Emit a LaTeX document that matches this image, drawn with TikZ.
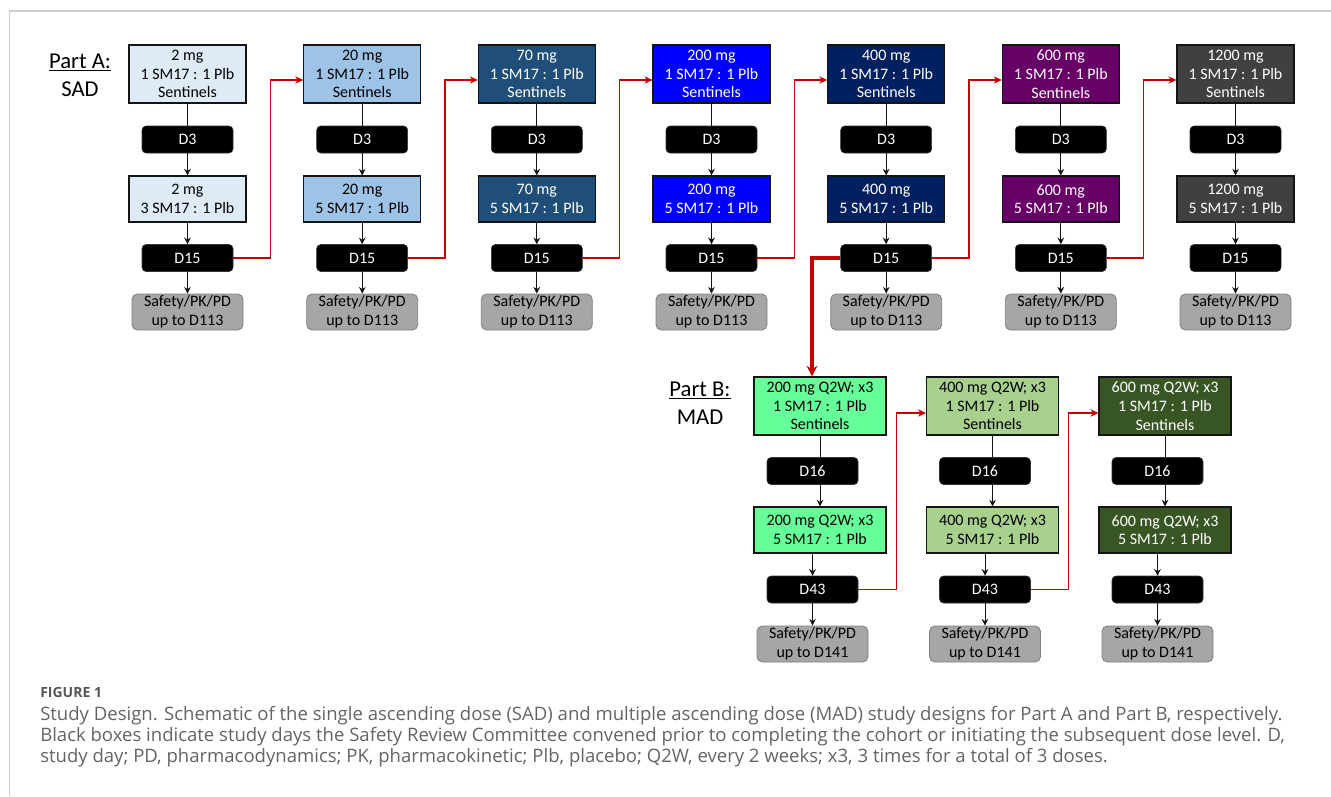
\documentclass[tikz,border=0pt]{standalone}
\usepackage{fontspec}
\setmainfont{Carlito}
\newfontfamily\capfont{Open Sans}
\usetikzlibrary{
    arrows.meta,
    calc,
    positioning
}
\definecolor{ink}{RGB}{20,20,20}
\definecolor{doseA}{RGB}{222,235,247}
\definecolor{doseB}{RGB}{157,195,230}
\definecolor{doseC}{RGB}{31,78,121}
\definecolor{doseD}{RGB}{0,0,255}
\definecolor{doseE}{RGB}{0,32,96}
\definecolor{doseF}{RGB}{102,0,102}
\definecolor{doseG}{RGB}{64,64,64}
\definecolor{madA}{RGB}{102,255,153}
\definecolor{madB}{RGB}{169,209,142}
\definecolor{madC}{RGB}{55,86,35}
\definecolor{safety}{RGB}{166,166,166}
\definecolor{safetyedge}{RGB}{127,127,127}
\definecolor{escalate}{RGB}{200,0,0}
\definecolor{framegray}{RGB}{205,205,205}
\definecolor{captext}{RGB}{100,100,100}
\definecolor{caphead}{RGB}{85,85,85}
\tikzset{
    line join=miter,
    boxtext/.style={font=\fontsize{12}{14}\selectfont},
    dosebox/.style={
        rectangle,
        draw=ink,
        line width=0.8pt,
        minimum width=87.75pt,
        inner sep=1pt,
        align=center,
        boxtext
    },
    sentinel/.style={dosebox, minimum height=43.5pt},
    cohort/.style={dosebox, minimum height=34.5pt},
    madbox/.style={minimum width=99pt},
    daybox/.style={
        rectangle,
        rounded corners=3pt,
        fill=black,
        draw=black!80,
        line width=0.4pt,
        text=white,
        minimum width=68.25pt,
        minimum height=20.25pt,
        inner sep=1pt,
        boxtext
    },
    safetybox/.style={
        rectangle,
        rounded corners=4pt,
        fill=safety,
        draw=safetyedge,
        line width=0.6pt,
        minimum width=83.25pt,
        minimum height=27pt,
        inner sep=0.5pt,
        align=center,
        text=black,
        font=\fontsize{12}{14}\selectfont
    },
    link/.style={
        draw=ink,
        line width=0.75pt
    },
    flow/.style={
        link,
        -{Stealth[length=5pt, width=5pt]}
    },
    nextdose/.style={
        -{Stealth[length=6pt, width=5.5pt]},
        draw=escalate,
        line width=0.8pt
    },
    tomad/.style={
        -{Stealth[length=8pt, width=8pt]},
        draw=escalate,
        line width=2.3pt
    },
    partlabel/.style={
        align=center,
        font=\fontsize{17}{21}\selectfont
    },
    caphead/.style={
        font=\capfont\bfseries\fontsize{10.5}{12}\selectfont,
        text=caphead,
        inner sep=0pt
    },
    captext/.style={
        font=\capfont\fontsize{13.9}{15.5}\selectfont,
        text=captext,
        align=left,
        inner sep=0pt
    }
}

\begin{document}
\begin{tikzpicture}[x=0.75pt, y=-0.75pt]

\useasboundingbox (0,0) rectangle (1331,796);

% frame of the figure panel
\draw[framegray, line width=0.8pt] (1331,11) -- (9.5,11) -- (9.5,796);

% Part A: single ascending dose
\node[partlabel] (partA) at (80,75) {\underline{Part A:}\\SAD};

\foreach \i/\x/\dose/\ratio/\fillc/\txtc in {
    1/187.5/2/3/doseA/black,
    2/362.2/20/5/doseB/black,
    3/536.8/70/5/doseC/white,
    4/711.5/200/5/doseD/white,
    5/886.2/400/5/doseE/white,
    6/1060.8/600/5/doseF/white,
    7/1235.5/1200/5/doseG/white}{
    \node[sentinel, fill=\fillc, text=\txtc] (sadtop-\i) at (\x,74) {\dose{} mg\\1 SM17 : 1 Plb\\Sentinels};
    \node[daybox] (sadd3-\i) at (\x,139.5) {D3};
    \node[cohort, fill=\fillc, text=\txtc] (sadmain-\i) at (\x,199) {\dose{} mg\\\ratio{} SM17 : 1 Plb};
    \node[daybox] (sadd15-\i) at (\x,258) {D15};
    \node[safetybox] (sadsafe-\i) at (\x,312) {Safety/PK/PD\\up to D113};
    \draw[link] (sadtop-\i) -- (sadd3-\i);
    \draw[flow] (sadd3-\i) -- (sadmain-\i);
    \draw[flow] (sadmain-\i) -- (sadd15-\i);
    \draw[flow] (sadd15-\i) -- (sadsafe-\i);
}

% escalation to the next SAD cohort
\foreach \i in {1,...,6}{
    \pgfmathtruncatemacro{\j}{\i+1}
    \draw[nextdose] (sadd15-\i.east) -- ++(37,0) |- ([yshift=-4.5pt]sadtop-\j.west);
}

% Part B: multiple ascending dose
\node[partlabel] (partB) at (700,403) {\underline{Part B:}\\MAD};

\foreach \i/\x/\dose/\fillc/\txtc in {
    1/820/200/madA/black,
    2/992.5/400/madB/black,
    3/1165/600/madC/white}{
    \node[sentinel, madbox, fill=\fillc, text=\txtc] (madtop-\i) at (\x,406) {\dose{} mg Q2W; x3\\1 SM17 : 1 Plb\\Sentinels};
    \node[daybox] (madd16-\i) at (\x-7.5,471) {D16};
    \node[cohort, madbox, fill=\fillc, text=\txtc] (madmain-\i) at (\x,530) {\dose{} mg Q2W; x3\\5 SM17 : 1 Plb};
    \node[daybox] (madd43-\i) at (\x-7.5,589.5) {D43};
    \node[safetybox] (madsafe-\i) at (\x-7.5,644) {Safety/PK/PD\\up to D141};
    \draw[link] (madtop-\i) -- (madtop-\i |- madd16-\i.north);
    \draw[flow] (madtop-\i |- madd16-\i.south) -- (madmain-\i);
    \draw[flow] (madd43-\i |- madmain-\i.south) -- (madd43-\i);
    \draw[flow] (madd43-\i) -- (madsafe-\i);
}

\foreach \i in {1,2}{
    \pgfmathtruncatemacro{\j}{\i+1}
    \draw[nextdose] (madd43-\i.east) -- ++(38,0) |- ([yshift=-5.25pt]madtop-\j.west);
}

% 400 mg SAD opens Part B
\draw[tomad] (sadd15-5.west) -| ([xshift=-6pt]madtop-1.north);

% Caption
\node[caphead, anchor=west] (fighead) at (40,692) {FIGURE 1};
\node[captext, anchor=north west] (figcaption) at (40,706.5) {Study Design. Schematic of the single ascending dose (SAD) and multiple ascending dose (MAD) study designs for Part A and Part B, respectively.\\
Black boxes indicate study days the Safety Review Committee convened prior to completing the cohort or initiating the subsequent dose level. D,\\
study day; PD, pharmacodynamics; PK, pharmacokinetic; Plb, placebo; Q2W, every 2 weeks; x3, 3 times for a total of 3 doses.};

\end{tikzpicture}
\end{document}
